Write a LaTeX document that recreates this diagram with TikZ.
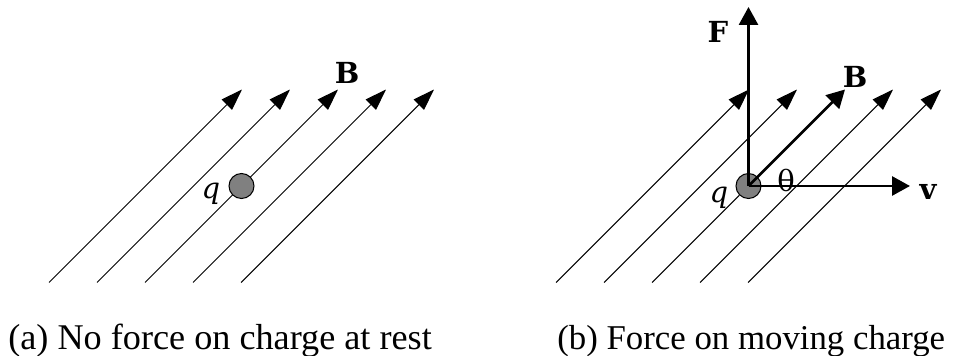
\documentclass[tikz,border=0pt]{standalone}
\usepackage{fontspec}
\setmainfont{Liberation Serif}
\newfontfamily\lblfont{DejaVu Serif}
\usetikzlibrary{arrows.meta,calc}

\begin{document}
\begin{tikzpicture}[
    fieldline/.style={line width=0.6pt, -{Triangle[length=0.43cm,width=0.29cm]}},
    thinline/.style={line width=0.6pt},
    vect/.style={line width=1.6pt, -{Triangle[length=0.36cm,width=0.38cm]}},
    charge/.style={circle, draw=black, fill=gray, line width=0.6pt, minimum size=0.5cm, inner sep=0pt},
    lbl/.style={font=\lblfont\fontsize{16.5}{19}\selectfont, inner sep=0pt},
    caption/.style={anchor=base west, font=\fontsize{19.8}{23}\selectfont, inner sep=0pt}
]
\useasboundingbox (0,0) rectangle (19.08,7.1);

% (a) Field lines
\foreach \k in {1,...,5} {
  \coordinate (as\k) at ({0.02+0.96*\k}, 1.45);
  \coordinate (ae\k) at ($(as\k)+(3.86,3.86)$);
  \draw[fieldline] (as\k) -- (ae\k);
}

% Charge at rest
\node[charge] (qa) at ($(as3)!0.5!(ae3)$) {};
\node[lbl] (qalbl) at (4.22,3.22) {\itshape q};
\node[lbl] (Ba) at (6.94,5.64) {\bfseries B};

% (b) Field lines
\foreach \k in {1,2,4,5} {
  \coordinate (bs\k) at ({10.16+0.96*\k}, 1.45);
  \coordinate (be\k) at ($(bs\k)+(3.86,3.86)$);
  \draw[fieldline] (bs\k) -- (be\k);
}
\coordinate (bs3) at (13.04,1.45);
\coordinate (be3) at ($(bs3)+(3.86,3.86)$);

% Moving charge
\node[charge] (qb) at ($(bs3)!0.5!(be3)$) {};
\draw[thinline] (bs3) -- (qb);
\coordinate (Ftip) at ($(qb.center)+(0,3.58)$);
\coordinate (vtip) at ($(qb.center)+(3.23,0)$);
\draw[vect] (qb.center) -- (Ftip);
\draw[vect] (qb.center) -- (be3);
\draw[vect] (qb.center) -- (vtip);

% Labels
\node[lbl] (qblbl) at (14.38,3.14) {\itshape q};
\node[lbl] (Fb) at (14.36,6.46) {\bfseries F};
\node[lbl] (Bb) at (17.10,5.56) {\bfseries B};
\node[lbl] (theta) at (15.72,3.50) {θ};
\node[lbl] (vb) at (18.56,3.26) {\bfseries v};

% Captions
\node[caption, font=\fontsize{20.6}{24}\selectfont] (capa) at (0.16,0.12) {(a) No force on charge at rest};
\node[caption] (capb) at (11.14,0.12) {(b) Force on moving charge};

\end{tikzpicture}
\end{document}
